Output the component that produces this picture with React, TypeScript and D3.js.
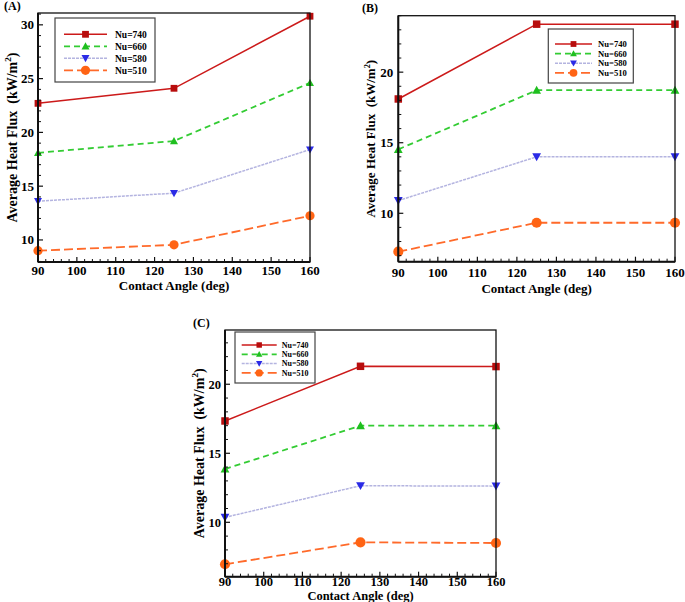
import React from "react";
import * as d3 from "d3";

const angles = [90, 125, 160];
const seriesNames = ["Nu=740", "Nu=660", "Nu=580", "Nu=510"];

const panelA740 = [22.7, 24.1, 30.8];
const panelA660 = [18.1, 19.2, 24.6];
const panelA580 = [13.6, 14.35, 18.4];
const panelA510 = [9.0, 9.55, 12.25];

const panelB740 = [18.1, 23.4, 23.4];
const panelB660 = [14.53, 18.72, 18.72];
const panelB580 = [10.9, 14.0, 14.0];
const panelB510 = [7.28, 9.33, 9.33];

const panelC740 = [17.34, 21.3, 21.28];
const panelC660 = [13.86, 17.0, 17.0];
const panelC580 = [10.36, 12.65, 12.62];
const panelC510 = [6.96, 8.55, 8.5];

const xTicks = [90, 100, 110, 120, 130, 140, 150, 160];
const yTicksA = [10, 15, 20, 25, 30];
const yTicksBC = [10, 15, 20];

type Style = { line: string; marker: string; dash: string; width: number; shape: string };
const styles: Style[] = [
  { line: "#cc1a1a", marker: "#b80d0d", dash: "none", width: 1.5, shape: "square" },
  { line: "#33cc33", marker: "#1fbf1f", dash: "6,4", width: 1.8, shape: "up" },
  { line: "#b4b4e0", marker: "#2a2ae6", dash: "3,1", width: 1.5, shape: "down" },
  { line: "#ff6a2a", marker: "#ff6414", dash: "9,4", width: 1.8, shape: "circle" },
];

type PanelCfg = {
  label: string;
  labelX: number;
  labelY: number;
  left: number;
  right: number;
  top: number;
  bottom: number;
  yDomain: [number, number];
  yTicks: number[];
  series: number[][];
  legend: { x: number; y: number; w: number; h: number; lx1: number; lx2: number; tx: number; row0: number; dy: number; fs: number; ms: number };
  tickFs: number;
  tickBase: number;
  tickGap: number;
  xLabBase: number;
  yLabX: number;
  yLabFs: number;
  xLabFs: number;
  ms: number;
};

const panels: PanelCfg[] = [
  {
    label: "(A)", labelX: 4, labelY: 10,
    left: 38, right: 310, top: 13, bottom: 262,
    yDomain: [7.95, 31.1], yTicks: yTicksA,
    series: [panelA740, panelA660, panelA580, panelA510],
    legend: { x: 55, y: 18, w: 100, h: 64, lx1: 64, lx2: 107, tx: 115, row0: 34.3, dy: 12, fs: 9.5, ms: 1 },
    tickFs: 13, tickBase: 275, tickGap: 4, xLabBase: 290, yLabX: 17, yLabFs: 14, xLabFs: 13, ms: 1,
  },
  {
    label: "(B)", labelX: 362, labelY: 12,
    left: 398.3, right: 675, top: 15.7, bottom: 261.7,
    yDomain: [6.57, 24.0], yTicks: yTicksBC,
    series: [panelB740, panelB660, panelB580, panelB510],
    legend: { x: 548.3, y: 29, w: 85, h: 54, lx1: 555, lx2: 592, tx: 598, row0: 44, dy: 9.6, fs: 8.6, ms: 0.85 },
    tickFs: 13, tickBase: 277, tickGap: 5, xLabBase: 293, yLabX: 375, yLabFs: 13, xLabFs: 13, ms: 1.1,
  },
  {
    label: "(C)", labelX: 193, labelY: 327,
    left: 225, right: 496, top: 330, bottom: 576.7,
    yDomain: [6.06, 23.93], yTicks: yTicksBC,
    series: [panelC740, panelC660, panelC580, panelC510],
    legend: { x: 235, y: 332, w: 80, h: 51, lx1: 241.7, lx2: 276.7, tx: 281.7, row0: 345, dy: 9.3, fs: 8, ms: 0.8 },
    tickFs: 12.5, tickBase: 586, tickGap: 4, xLabBase: 600, yLabX: 204, yLabFs: 14, xLabFs: 12.5, ms: 1.1,
  },
];

const FONT = "'Liberation Serif', 'Times New Roman', serif";

function Marker({ shape, x, y, color, s }: { shape: string; x: number; y: number; color: string; s: number }) {
  if (shape === "square") {
    const h = 3.4 * s;
    return <rect x={x - h} y={y - h} width={2 * h} height={2 * h} fill={color} />;
  }
  if (shape === "circle") {
    return <circle cx={x} cy={y} r={4.6 * s} fill={color} />;
  }
  const h = 4 * s;
  if (shape === "up") {
    return <path d={`M${x},${y - h}L${x + h},${y + h * 0.8}L${x - h},${y + h * 0.8}Z`} fill={color} />;
  }
  return <path d={`M${x},${y + h}L${x + h},${y - h * 0.8}L${x - h},${y - h * 0.8}Z`} fill={color} />;
}

function Panel({ p }: { p: PanelCfg }) {
  const x = d3.scaleLinear().domain([90, 160]).range([p.left, p.right]);
  const y = d3.scaleLinear().domain(p.yDomain).range([p.bottom, p.top]);
  const line = d3
    .line<number>()
    .x((_, i) => x(angles[i]))
    .y((d) => y(d));
  const xMinor = d3.range(90, 161, 2).filter((v) => v % 10 !== 0);
  const yMinor = d3.range(Math.ceil(p.yDomain[0]), Math.floor(p.yDomain[1]) + 1).filter((v) => v % 5 !== 0);
  const cy = (p.top + p.bottom) / 2;
  const cx = (p.left + p.right) / 2;
  const L = p.legend;
  return (
    <g>
      <text x={p.labelX} y={p.labelY} fontFamily={FONT} fontWeight="bold" fontSize={12}>
        {p.label}
      </text>
      {p.series.map((vals, si) => (
        <g key={si}>
          <path d={line(vals) || ""} fill="none" stroke={styles[si].line} strokeWidth={styles[si].width} strokeDasharray={styles[si].dash} />
          {vals.map((v, i) => (
            <Marker key={i} shape={styles[si].shape} x={x(angles[i])} y={y(v)} color={styles[si].marker} s={p.ms} />
          ))}
        </g>
      ))}
      <rect x={p.left} y={p.top} width={p.right - p.left} height={p.bottom - p.top} fill="none" stroke="#111" strokeWidth={1.3} />
      <line x1={p.left} x2={p.left} y1={p.top} y2={p.bottom} stroke="#111" strokeWidth={2} />
      <line x1={p.left} x2={p.right} y1={p.bottom} y2={p.bottom} stroke="#111" strokeWidth={2} />
      {xTicks.map((t) => (
        <g key={t}>
          <line x1={x(t)} x2={x(t)} y1={p.bottom} y2={p.bottom - 5} stroke="#111" strokeWidth={1.2} />
          <text x={x(t)} y={p.tickBase} textAnchor="middle" fontFamily={FONT} fontWeight="bold" fontSize={p.tickFs}>
            {t}
          </text>
        </g>
      ))}
      {xMinor.map((t) => (
        <line key={t} x1={x(t)} x2={x(t)} y1={p.bottom} y2={p.bottom - 3} stroke="#111" strokeWidth={1} />
      ))}
      {p.yTicks.map((t) => (
        <g key={t}>
          <line x1={p.left} x2={p.left + 5} y1={y(t)} y2={y(t)} stroke="#111" strokeWidth={1.2} />
          <text x={p.left - p.tickGap} y={y(t) + 4.5} textAnchor="end" fontFamily={FONT} fontWeight="bold" fontSize={p.tickFs}>
            {t}
          </text>
        </g>
      ))}
      {yMinor.map((t) => (
        <line key={t} x1={p.left} x2={p.left + 3} y1={y(t)} y2={y(t)} stroke="#111" strokeWidth={1} />
      ))}
      <text x={cx} y={p.xLabBase} textAnchor="middle" fontFamily={FONT} fontWeight="bold" fontSize={p.xLabFs}>
        Contact Angle (deg)
      </text>
      <text
        transform={`translate(${p.yLabX},${cy}) rotate(-90)`}
        textAnchor="middle"
        fontFamily={FONT}
        fontWeight="bold"
        fontSize={p.yLabFs}
        style={{ whiteSpace: "pre" }}
      >
        {"Average Heat Flux  (kW/m"}
        <tspan fontSize={p.yLabFs * 0.65} dy={-p.yLabFs * 0.4}>2</tspan>
        <tspan dy={p.yLabFs * 0.4}>)</tspan>
      </text>
      <rect x={L.x} y={L.y} width={L.w} height={L.h} fill="#fff" stroke="#444" strokeWidth={1.2} />
      {seriesNames.map((n, i) => {
        const ry = L.row0 + i * L.dy;
        return (
          <g key={n}>
            <line x1={L.lx1} x2={L.lx2} y1={ry} y2={ry} stroke={styles[i].line} strokeWidth={styles[i].width} strokeDasharray={styles[i].dash} />
            <Marker shape={styles[i].shape} x={(L.lx1 + L.lx2) / 2} y={ry} color={styles[i].marker} s={L.ms} />
            <text x={L.tx} y={ry + L.fs * 0.35} fontFamily={FONT} fontWeight="bold" fontSize={L.fs}>
              {n}
            </text>
          </g>
        );
      })}
    </g>
  );
}

export default function App() {
  return (
    <svg width={685} height={602} style={{ position: "absolute", left: 0, top: 0, background: "#fff" }}>
      <rect width={685} height={602} fill="#fff" />
      {panels.map((p) => (
        <Panel key={p.label} p={p} />
      ))}
    </svg>
  );
}
